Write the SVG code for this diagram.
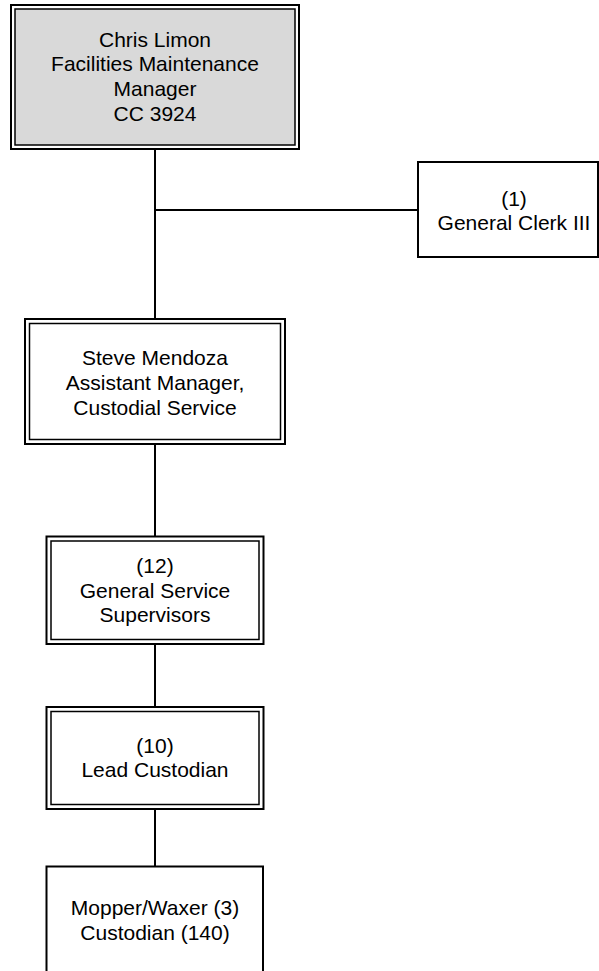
<svg xmlns="http://www.w3.org/2000/svg" width="599" height="971" viewBox="0 0 599 971">
<style>
.o{fill:#fff;stroke:#000;stroke-width:2}
.i{fill:none;stroke:#000;stroke-width:1.5}
.s{fill:#fff;stroke:#000;stroke-width:2}
.c{fill:none;stroke:#000;stroke-width:2}
text{font-family:"Liberation Sans",Arial,sans-serif;font-size:21px;fill:#000;text-anchor:middle}
</style>
<rect width="599" height="971" fill="#fff"/>
<g id="connectors">
<line class="c" x1="155" y1="149" x2="155" y2="319"/>
<line class="c" x1="155" y1="210" x2="418" y2="210"/>
<line class="c" x1="155" y1="444" x2="155" y2="536"/>
<line class="c" x1="155" y1="644" x2="155" y2="707"/>
<line class="c" x1="155" y1="809" x2="155" y2="866"/>
</g>
<g id="manager">
<rect class="o" x="11" y="5" width="288" height="144"/>
<rect class="i" x="15" y="9" width="280" height="136" fill="#d9d9d9" style="fill:#d9d9d9"/>
<text x="155" y="46.5">Chris Limon</text>
<text x="155" y="71">Facilities Maintenance</text>
<text x="155" y="96">Manager</text>
<text x="155" y="121">CC 3924</text>
</g>
<g id="clerk">
<rect class="s" x="418" y="162" width="180" height="95"/>
<text x="514" y="206">(1)</text>
<text x="514" y="230">General Clerk III</text>
</g>
<g id="assistant">
<rect class="o" x="25" y="319" width="260" height="125"/>
<rect class="i" x="29.5" y="323.5" width="251" height="116"/>
<text x="155" y="365">Steve Mendoza</text>
<text x="155" y="390">Assistant Manager,</text>
<text x="155" y="415">Custodial Service</text>
</g>
<g id="supervisors">
<rect class="o" x="46.5" y="536.5" width="217" height="107.5"/>
<rect class="i" x="51" y="541" width="208" height="98.5"/>
<text x="155" y="573">(12)</text>
<text x="155" y="598">General Service</text>
<text x="155" y="622">Supervisors</text>
</g>
<g id="lead">
<rect class="o" x="46.5" y="707" width="217" height="102"/>
<rect class="i" x="51" y="711.5" width="208" height="93"/>
<text x="155" y="753">(10)</text>
<text x="155" y="777">Lead Custodian</text>
</g>
<g id="custodians">
<rect class="s" x="46.5" y="866.5" width="216.5" height="110"/>
<text x="155" y="915">Mopper/Waxer (3)</text>
<text x="155" y="940">Custodian (140)</text>
</g>
</svg>
